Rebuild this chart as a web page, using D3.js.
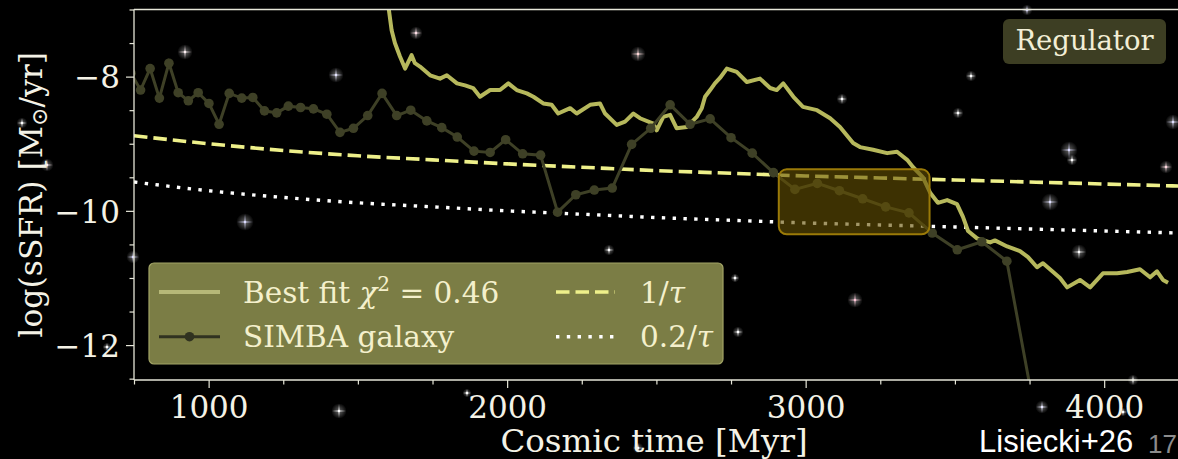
<!DOCTYPE html>
<html>
<head>
<meta charset="utf-8">
<script src="https://cdn.jsdelivr.net/npm/d3@7"></script>
<style>
  html, body { margin: 0; padding: 0; background: #000; overflow: hidden; }
  svg { display: block; }
  text { font-family: "DejaVu Serif", serif; }
</style>
</head>
<body>
<svg id="chart" width="1178" height="459"></svg>
<script>
// SIMBA galaxy: cosmic time of each snapshot [Myr] and log(sSFR) [1/yr]
const simbaTime = [740,772,804,835,867,898,932,965,1001,1035,1069,1111,1148,1187,1228,1267,1308,1351,1396,1440,1485,1533,1581,1630,1677,1731,1781,1833,1889,1943,1995,2052,2112,2169,2230,2292,2352,2417,2481,2546,2613,2680,2750,2821,2892,2964,3039,3113,3191,3268,3346,3424,3508,3590,3674,3755];
const simbaLogSSFR = [-7.95,-8.20,-7.88,-8.32,-7.80,-8.24,-8.36,-8.24,-8.40,-8.71,-8.25,-8.32,-8.31,-8.51,-8.54,-8.44,-8.46,-8.48,-8.56,-8.83,-8.77,-8.58,-8.25,-8.58,-8.50,-8.66,-8.76,-8.90,-9.11,-9.13,-8.94,-9.15,-9.17,-10.02,-9.76,-9.69,-9.66,-9.01,-8.77,-8.42,-8.71,-8.63,-8.91,-9.14,-9.43,-9.68,-9.59,-9.70,-9.82,-9.94,-10.03,-10.33,-10.58,-10.46,-10.75,-12.70];

// Best-fit regulator model
const fitTime = [1596,1604,1613,1624,1641,1658,1669,1680,1691,1708,1742,1775,1798,1832,1859,1886,1909,1943,1976,2004,2032,2066,2088,2121,2149,2171,2211,2233,2278,2311,2328,2367,2395,2423,2445,2490,2501,2523,2546,2568,2602,2635,2652,2663,2680,2696,2713,2736,2769,2803,2847,2881,2903,2925,2959,2991,3038,3082,3115,3159,3182,3226,3273,3306,3340,3360,3393,3417,3443,3474,3507,3527,3544,3574,3618,3634,3675,3718,3745,3775,3795,3829,3852,3876,3919,3953,3996,4043,4077,4120,4154,4177,4197,4214];
const fitLogSSFR = [-6.71,-7.01,-7.31,-7.50,-7.70,-7.88,-7.78,-7.68,-7.80,-7.85,-7.98,-8.03,-7.98,-8.10,-8.13,-8.17,-8.30,-8.20,-8.20,-8.10,-8.20,-8.25,-8.30,-8.40,-8.42,-8.55,-8.47,-8.55,-8.42,-8.40,-8.55,-8.72,-8.67,-8.55,-8.62,-8.70,-8.80,-8.60,-8.57,-8.77,-8.75,-8.60,-8.47,-8.30,-8.20,-8.10,-8.02,-7.88,-7.93,-8.08,-8.03,-8.17,-8.20,-8.10,-8.30,-8.45,-8.50,-8.62,-8.75,-8.99,-9.05,-9.09,-9.14,-9.12,-9.24,-9.35,-9.50,-9.73,-9.88,-9.84,-9.90,-10.09,-10.30,-10.41,-10.47,-10.44,-10.53,-10.60,-10.69,-10.84,-10.78,-10.91,-11.00,-11.14,-11.03,-11.14,-10.93,-10.93,-10.91,-10.87,-10.99,-10.90,-11.03,-11.07];

// Reference thresholds 1/tau and 0.2/tau
const refTime = [750,1000,1250,1500,1750,2000,2250,2500,2750,3000,3250,3500,3750,4000,4250];
const tauLogSSFR = [-8.88,-9.00,-9.10,-9.18,-9.24,-9.30,-9.35,-9.40,-9.44,-9.48,-9.51,-9.54,-9.57,-9.60,-9.63];
const tau02LogSSFR = [-9.57,-9.70,-9.80,-9.88,-9.94,-10.00,-10.05,-10.10,-10.14,-10.18,-10.21,-10.24,-10.27,-10.30,-10.33];

// Highlighted time window
const windowTime = [2910, 3415];
const windowLogSSFR = [-10.35, -9.38];

// Axis ticks
const xTicks = [1000, 2000, 3000, 4000];
const xMinorTicks = [750,1250,1500,1750,2250,2500,2750,3250,3500,3750,4250];
const yTicks = [-12, -10, -8];
const yMinorTicks = [-12.5,-11.5,-11,-10.5,-9.5,-9,-8.5,-7.5,-7];

// Background starfield (screen position, arm length, tint)
const stars = [
  [185,52,7,'#fff0f4'],[336,75,7,'#e6e6ff'],[245,222,8,'#dcdcff'],[22,123,5,'#ffffff'],
  [47,165,6,'#ffe8ec'],[416,33,6,'#ffe0e8'],[638,54,7,'#ffd8d8'],[842,99,5,'#ffffff'],
  [971,76,5,'#ffffff'],[958,113,5,'#ffffff'],[1069,150,8,'#dcdcff'],[1072,160,5,'#ffffff'],
  [1173,122,7,'#e0e0ff'],[1166,167,6,'#ffd8e0'],[1050,202,8,'#e0e0ff'],[1027,10,5,'#d8d8ff'],
  [133,257,6,'#d8d8ff'],[339,411,7,'#ffffff'],[107,347,4,'#ffffff'],[609,250,5,'#ffffff'],
  [735,278,4,'#ffffff'],[738,332,5,'#ffffff'],[467,393,4,'#ffffff'],[638,448,5,'#ffffff'],
  [1079,252,7,'#ffffff'],[855,300,7,'#ffc8d8'],[1042,407,6,'#e8e8ff'],[1133,380,5,'#ffffff'],
  [1123,412,4,'#ffffff'],[302,307,4,'#ffffff'],[463,347,4,'#ffffff']
];

const svg = d3.select('#chart');
const W = 1178, H = 459;
const plot = { left: 134, right: 1178.8, top: 9.5, bottom: 380 };

const x = d3.scaleLinear().domain([750, 4250]).range([plot.left, plot.right]);
const y = d3.scaleLinear().domain([-12.52, -7]).range([plot.bottom, plot.top]);

const axisColor = '#e6e6d8';
const textColor = '#f4f2e6';

svg.append('rect').attr('width', W).attr('height', H).attr('fill', '#000');

// starfield
const defs = svg.append('defs');
const glow = defs.append('radialGradient').attr('id', 'starGlow');
glow.append('stop').attr('offset', '0%').attr('stop-color', '#fff').attr('stop-opacity', 0.4);
glow.append('stop').attr('offset', '100%').attr('stop-color', '#fff').attr('stop-opacity', 0);

const starG = svg.append('g');
stars.forEach(([sx, sy, s, c]) => {
  const g = starG.append('g').attr('transform', `translate(${sx},${sy})`);
  g.append('circle').attr('r', s * 1.1).attr('fill', 'url(#starGlow)');
  const w = 0.75;
  g.append('path').attr('d', `M${-s},0L0,${-w}L${s},0L0,${w}Z`).attr('fill', c).attr('opacity', 0.7);
  g.append('path').attr('d', `M0,${-s}L${-w},0L0,${s}L${w},0Z`).attr('fill', c).attr('opacity', 0.7);
  g.append('circle').attr('r', 1.2).attr('fill', c);
});

defs.append('clipPath').attr('id', 'plotClip')
  .append('rect')
  .attr('x', plot.left).attr('y', plot.top)
  .attr('width', plot.right - plot.left).attr('height', plot.bottom - plot.top);

const data = svg.append('g').attr('clip-path', 'url(#plotClip)');

const refLine = (vals) => d3.line()
  .x((d, i) => x(refTime[i]))
  .y(d => y(d))
  .curve(d3.curveMonotoneX)(vals);

// 0.2/tau dotted
data.append('path')
  .attr('d', refLine(tau02LogSSFR))
  .attr('fill', 'none').attr('stroke', '#ffffff')
  .attr('stroke-width', 3.4).attr('stroke-dasharray', '3.4,7.4');

// 1/tau dashed
data.append('path')
  .attr('d', refLine(tauLogSSFR))
  .attr('fill', 'none').attr('stroke', '#eef08a')
  .attr('stroke-width', 3.6).attr('stroke-dasharray', '13.5,6');

// best fit
const fitPts = fitTime.map((t, i) => [t, fitLogSSFR[i]]);
data.append('path')
  .attr('d', d3.line().x(d => x(d[0])).y(d => y(d[1]))(fitPts))
  .attr('fill', 'none').attr('stroke', '#b6b85c')
  .attr('stroke-width', 4).attr('stroke-linejoin', 'round');

// SIMBA galaxy
const simbaColor = '#3e4026';
const simbaPts = simbaTime.map((t, i) => [t, simbaLogSSFR[i]]);
data.append('path')
  .attr('d', d3.line().x(d => x(d[0])).y(d => y(d[1]))(simbaPts))
  .attr('fill', 'none').attr('stroke', simbaColor).attr('stroke-width', 3);
data.selectAll('circle.simba').data(simbaPts).join('circle')
  .attr('class', 'simba')
  .attr('cx', d => x(d[0])).attr('cy', d => y(d[1]))
  .attr('r', 4.8).attr('fill', simbaColor);

// highlighted window
svg.append('rect')
  .attr('x', x(windowTime[0])).attr('y', y(windowLogSSFR[1]))
  .attr('width', x(windowTime[1]) - x(windowTime[0]))
  .attr('height', y(windowLogSSFR[0]) - y(windowLogSSFR[1]))
  .attr('rx', 8)
  .attr('fill', 'rgba(102,81,3,0.6)')
  .attr('stroke', '#9a7a08').attr('stroke-width', 2);

// spines
const spines = svg.append('g').attr('stroke', axisColor).attr('stroke-width', 1.3);
spines.append('line').attr('x1', plot.left).attr('x2', plot.left).attr('y1', plot.top).attr('y2', plot.bottom);
spines.append('line').attr('x1', plot.left).attr('x2', W).attr('y1', plot.bottom).attr('y2', plot.bottom);
spines.append('line').attr('x1', plot.left).attr('x2', W).attr('y1', plot.top).attr('y2', plot.top);

function styleAxis(g) {
  g.select('.domain').remove();
  g.selectAll('line').attr('stroke', axisColor).attr('stroke-width', 1.2);
  g.selectAll('text').attr('fill', textColor)
    .style('font-family', '"DejaVu Serif", serif').style('font-size', '31px');
}

const minus = v => (v < 0 ? '\u2212' : '') + Math.abs(v);

svg.append('g').attr('transform', `translate(0,${plot.bottom})`)
  .call(d3.axisBottom(x).tickValues(xTicks).tickSize(8).tickPadding(6).tickFormat(d3.format('d')))
  .call(styleAxis)
  .selectAll('text').attr('dy', '0.78em');
svg.append('g').attr('transform', `translate(0,${plot.bottom})`)
  .call(d3.axisBottom(x).tickValues(xMinorTicks).tickSize(4.5).tickFormat(''))
  .call(styleAxis);

svg.append('g').attr('transform', `translate(${plot.left},0)`)
  .call(d3.axisLeft(y).tickValues(yTicks).tickSize(8).tickPadding(6).tickFormat(minus))
  .call(styleAxis)
  .selectAll('text').attr('dy', '0.36em');
svg.append('g').attr('transform', `translate(${plot.left},0)`)
  .call(d3.axisLeft(y).tickValues(yMinorTicks).tickSize(4.5).tickFormat(''))
  .call(styleAxis);

// axis titles
svg.append('text')
  .attr('x', 654).attr('y', 452)
  .attr('text-anchor', 'middle').attr('fill', textColor)
  .style('font-size', '32.5px').text('Cosmic time [Myr]');

const yl = svg.append('text')
  .attr('transform', `translate(42,${(plot.top + plot.bottom) / 2}) rotate(-90)`)
  .attr('text-anchor', 'middle').attr('fill', textColor)
  .style('font-size', '31.5px');
yl.append('tspan').text('log(sSFR) [M');
yl.append('tspan').attr('dy', 5).style('font-size', '22px').text('\u2299');
yl.append('tspan').attr('dy', -5).text('/yr]');

// legend
const lg = svg.append('g');
lg.append('rect').attr('x', 149).attr('y', 263).attr('width', 574).attr('height', 101)
  .attr('rx', 5).attr('fill', '#7b7d45').attr('stroke', '#a2a466').attr('stroke-width', 1.2);
const row1 = 292, row2 = 336.7;
lg.append('line').attr('x1', 159).attr('x2', 220).attr('y1', row1).attr('y2', row1)
  .attr('stroke', '#b6b878').attr('stroke-width', 4);
lg.append('line').attr('x1', 159).attr('x2', 220).attr('y1', row2).attr('y2', row2)
  .attr('stroke', '#303220').attr('stroke-width', 3);
lg.append('circle').attr('cx', 189.5).attr('cy', row2).attr('r', 4.8).attr('fill', '#303220');
lg.append('line').attr('x1', 556).attr('x2', 615).attr('y1', row1).attr('y2', row1)
  .attr('stroke', '#eef08a').attr('stroke-width', 3.6).attr('stroke-dasharray', '13.5,6');
lg.append('line').attr('x1', 556).attr('x2', 615).attr('y1', row2).attr('y2', row2)
  .attr('stroke', '#ffffff').attr('stroke-width', 3.4).attr('stroke-dasharray', '3.4,7.4');

const legendText = '#f4f0cc';
const t1 = lg.append('text').attr('x', 243).attr('y', row1 + 10.5).attr('fill', legendText).style('font-size', '29.5px');
t1.append('tspan').text('Best fit ');
t1.append('tspan').style('font-style', 'italic').text('\u03c7');
t1.append('tspan').attr('dy', -12).style('font-size', '20px').text('2');
t1.append('tspan').attr('dy', 12).text(' = 0.46');
lg.append('text').attr('x', 243).attr('y', row2 + 10.5).attr('fill', legendText)
  .style('font-size', '29.5px').text('SIMBA galaxy');
const t3 = lg.append('text').attr('x', 640).attr('y', row1 + 10.5).attr('fill', legendText).style('font-size', '29.5px');
t3.append('tspan').text('1/');
t3.append('tspan').style('font-style', 'italic').text('\u03c4');
const t4 = lg.append('text').attr('x', 640).attr('y', row2 + 10.5).attr('fill', legendText).style('font-size', '29.5px');
t4.append('tspan').text('0.2/');
t4.append('tspan').style('font-style', 'italic').text('\u03c4');

// model label
svg.append('rect').attr('x', 1003).attr('y', 19).attr('width', 163).attr('height', 45)
  .attr('rx', 6).attr('fill', '#3d3e23');
svg.append('text').attr('x', 1084.5).attr('y', 49.5).attr('text-anchor', 'middle')
  .attr('fill', '#f2eed6').style('font-size', '27.5px').text('Regulator');

// credit and page number
svg.append('text').attr('x', 979).attr('y', 452)
  .attr('fill', '#ffffff').style('font-family', '"Liberation Sans", Arial, sans-serif')
  .style('font-size', '31px').text('Lisiecki+26');
svg.append('text').attr('x', 1148).attr('y', 453)
  .attr('fill', '#8c8c8c').style('font-family', '"Liberation Sans", Arial, sans-serif')
  .style('font-size', '26px').text('17');
</script>
</body>
</html>
